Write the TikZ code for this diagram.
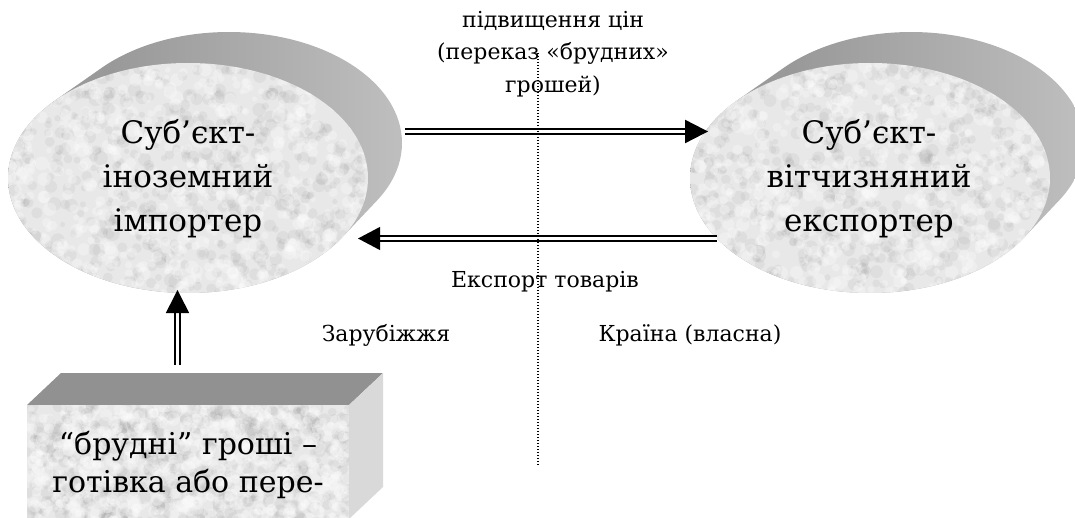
\documentclass[tikz,border=0pt]{standalone}
\usepackage{fontspec}
\newfontfamily\tnr{DejaVu Serif}
\usetikzlibrary{shapes.geometric,calc}

\definecolor{faceBase}{HTML}{E8E8E8}
\definecolor{sideL}{HTML}{ABABAB}
\definecolor{sideM}{HTML}{999999}
\definecolor{sideR}{HTML}{D8D8D8}
\definecolor{boxTop}{HTML}{919191}
\definecolor{boxSide}{HTML}{D9D9D9}

\pgfdeclarehorizontalshading{sideshade}{100bp}{color(0bp)=(sideL); color(38bp)=(sideM); color(100bp)=(sideR)}

% granite-like mottling inside the current clip: centre x, centre y, half width, half height, seed
\newcommand\granite[5]{%
  \pgfmathsetseed{#5}%
  \foreach \k in {1,...,650}{%
    \pgfmathsetmacro\px{#1+rand*#3}%
    \pgfmathsetmacro\py{#2+rand*#4}%
    \pgfmathsetmacro\pr{2.5+4.5*rnd}%
    \fill[black,fill opacity=0.04] (\px,\py) circle[radius=\pr pt];
  }%
  \foreach \k in {1,...,650}{%
    \pgfmathsetmacro\px{#1+rand*#3}%
    \pgfmathsetmacro\py{#2+rand*#4}%
    \pgfmathsetmacro\pr{2.5+4.5*rnd}%
    \fill[white,fill opacity=0.28] (\px,\py) circle[radius=\pr pt];
  }%
}

\tikzset{
  bigtext/.style={font=\tnr\fontsize{31}{44}\selectfont, align=center, inner sep=0pt},
  boxtext/.style={font=\tnr\fontsize{30}{38}\selectfont, align=center, inner sep=0pt},
  smalltext/.style={font=\tnr\fontsize{22}{32.5}\selectfont, align=center, inner sep=0pt},
  oval/.style={ellipse, minimum width=360pt, minimum height=230pt, inner sep=0pt},
  shaft/.style={draw=black, line width=2.4pt, double=white, double distance=2.6pt},
  divider/.style={line width=1.1pt, dash pattern=on 1.1pt off 1.9pt},
}

\begin{document}
\begin{tikzpicture}[x=1pt,y=-1pt]
\useasboundingbox (0,0) rectangle (1075,518);
\clip (0,0) rectangle (1075,518);

% ---- extruded sides of the two discs (front disc swept back to the rear disc)
\foreach \ox in {0,682}{
  \path[shading=sideshade]
    \foreach \t in {0,0.04,...,1.001}{
      ({188+\ox+41*\t},{178-35*\t}) ellipse [x radius={(180-7*\t)*1pt}, y radius={(115-4*\t)*1pt}]
    };
}

% ---- textured front faces
\foreach \ox/\sd in {0/11,682/23}{
  \begin{scope}
    \clip (188+\ox,178) ellipse [x radius=180pt, y radius=115pt];
    \fill[faceBase] (8+\ox,63) rectangle (368+\ox,293);
    \granite{188+\ox}{178}{180}{115}{\sd}
  \end{scope}
}

% ---- the block at the bottom
\fill[boxTop] (27,405) -- (61,373) -- (383,373) -- (349,405) -- cycle;
\fill[boxSide] (349,405) -- (383,373) -- (383,487) -- (349,519) -- cycle;
\begin{scope}
  \clip (27,405) rectangle (349,530);
  \fill[faceBase] (27,405) rectangle (349,530);
  \granite{188}{467}{161}{62}{37}
\end{scope}

% ---- nodes
\node[oval, bigtext] (imp) at (188,179) {Суб’єкт-\\іноземний\\імпортер};
\node[oval, bigtext] (exp) at (869,179) {Суб’єкт-\\вітчизняний\\експортер};
\node[boxtext] (cash) at (188,465) {“брудні” гроші –\\готівка або пере-};

\node[smalltext] (price) at (553,54) {підвищення цін\\(переказ «брудних»\\грошей)};
\node[smalltext] (goods) at (545,282) {Експорт товарів};
\node[smalltext] (abroad) at (386,335) {Зарубіжжя};
\node[smalltext] (home) at (690,335) {Країна (власна)};

% ---- connector end points
\coordinate (moneyFrom) at (405,131.5);
\coordinate (moneyTo) at (708,131.5);
\coordinate (goodsFrom) at (717,238.5);
\coordinate (goodsTo) at (358,238.5);
\coordinate (cashFrom) at (177.5,365);
\coordinate (cashTo) at (177.5,290);

% ---- double-line arrows with solid heads
\draw[shaft] (moneyFrom) -- ($(moneyTo)+(-23,0)$);
\fill (moneyTo) -- ++(-23,-11.8) -- ++(0,23.6) -- cycle;

\draw[shaft] (goodsFrom) -- ($(goodsTo)+(22,0)$);
\fill (goodsTo) -- ++(22,-11.6) -- ++(0,23.2) -- cycle;

\draw[shaft] (cashFrom) -- ($(cashTo)+(0,23)$);
\fill (cashTo) -- ++(-11.7,23) -- ++(23.4,0) -- cycle;

% ---- border line between the two countries
\coordinate (borderTop) at (538,53);
\coordinate (borderBottom) at (538,466);
\draw[divider] (borderTop) -- (borderBottom);
\end{tikzpicture}
\end{document}
